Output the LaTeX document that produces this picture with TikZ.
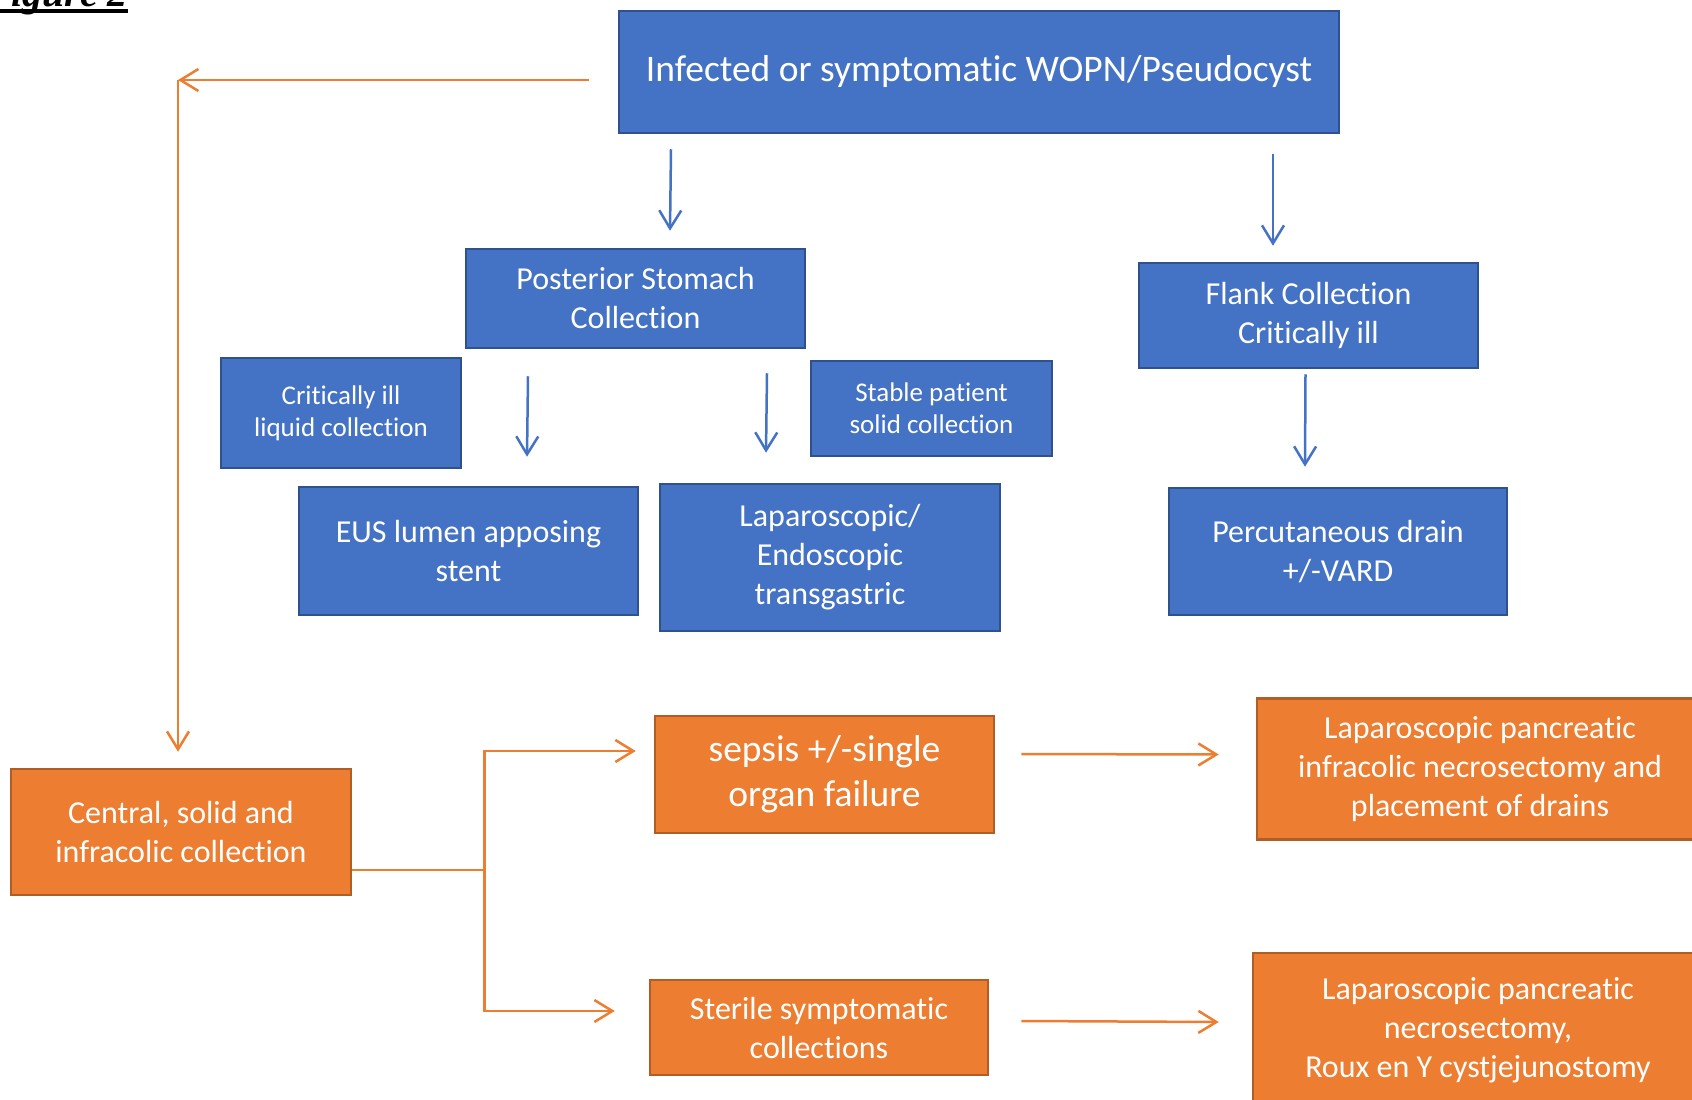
\documentclass[tikz,border=0pt]{standalone}
\usepackage{fontspec}
\setmainfont{Carlito}[Ligatures=NoCommon]
\newfontfamily\figfont{Liberation Serif}
\usetikzlibrary{arrows.meta,positioning}
\definecolor{boxBlue}{HTML}{4472C4}
\definecolor{edgeBlue}{HTML}{2F528F}
\definecolor{boxOrange}{HTML}{ED7D31}
\definecolor{edgeOrange}{HTML}{B05E25}
\newcommand\figUline[1]{\setbox0\hbox{#1}\rlap{\rule[-7pt]{\wd0}{4pt}}\box0}
\tikzset{
myBlueBox/.style={
	rectangle, draw=edgeBlue, fill=boxBlue, line width=2.5pt,
	inner sep=0pt, text=white, align=center,
	font=\fontsize{32}{39}\selectfont
}
, myOrangeBox/.style={
	rectangle, draw=edgeOrange, fill=boxOrange, line width=2.5pt,
	inner sep=0pt, text=white, align=center,
	font=\fontsize{32}{39}\selectfont
}
, mySmallText/.style={font=\fontsize{27}{32}\selectfont}
% link
, myBlueArrow/.style={-{Straight Barb[length=18pt,width=22pt,line width=2.5pt]},color=boxBlue,line width=2.5pt}
, myOrangeArrow/.style={-{Straight Barb[length=18pt,width=22pt,line width=2.5pt]},color=boxOrange,line width=2.5pt}
, myOrangeLine/.style={color=boxOrange,line width=2.5pt}
}
\begin{document}
\begin{tikzpicture}[x=1pt,y=-1pt]
	\useasboundingbox (0,0) rectangle (1692,1100);
	% label
	\node[font=\figfont\fontsize{40}{44}\selectfont\bfseries\itshape, anchor=base east, inner sep=0pt] (FigLabel) at (128,6) {\figUline{Figure 2}};
	% nodes
	\node[myBlueBox, minimum width=720pt, minimum height=122pt, font=\fontsize{37.5}{44}\selectfont] (Infected) at (979,72) {Infected or symptomatic WOPN/Pseudocyst};
	\node[myBlueBox, minimum width=339pt, minimum height=99pt] (Posterior) at (635.5,298.5) {Posterior Stomach\\Collection};
	\node[myBlueBox, minimum width=339pt, minimum height=105pt] (Flank) at (1308.5,315.5) {Flank Collection\\Critically ill};
	\node[myBlueBox, mySmallText, minimum width=240pt, minimum height=110pt] (CritLiquid) at (341,413) {Critically ill\\liquid collection};
	\node[myBlueBox, mySmallText, minimum width=241pt, minimum height=95pt] (StableSolid) at (931.5,408.5) {Stable patient\\solid collection};
	\node[myBlueBox, minimum width=339pt, minimum height=128pt] (EUS) at (468.5,551) {EUS lumen apposing\\stent};
	\node[myBlueBox, minimum width=340pt, minimum height=147pt] (LapEndo) at (830,557.5) {Laparoscopic/\\Endoscopic\\transgastric};
	\node[myBlueBox, minimum width=338pt, minimum height=127pt] (Percutaneous) at (1338,551.5) {Percutaneous drain\\+/-VARD};
	% orange part
	\node[myOrangeBox, minimum width=340pt, minimum height=126pt] (Central) at (181,832) {Central, solid and\\infracolic collection};
	\node[myOrangeBox, minimum width=339pt, minimum height=117pt, font=\fontsize{37.5}{45}\selectfont] (Sepsis) at (824.5,774.5) {sepsis +/-single\\organ failure};
	\node[myOrangeBox, minimum width=338pt, minimum height=95pt] (Sterile) at (819,1027.5) {Sterile symptomatic\\collections};
	\node[myOrangeBox, minimum width=446pt, minimum height=141pt] (LapDrains) at (1480,769) {Laparoscopic pancreatic\\infracolic necrosectomy and\\placement of drains};
	\node[myOrangeBox, minimum width=450pt, minimum height=154pt] (LapRoux) at (1478,1030) {Laparoscopic pancreatic\\necrosectomy,\\Roux en Y cystjejunostomy};
	\coordinate (Corner) at (178,80);

	% links
	\draw [myBlueArrow] ([xshift=-308pt,yshift=-15pt]Infected.south) -- ([xshift=34.5pt,yshift=17pt]Posterior.north);
	\draw [myBlueArrow] ([xshift=294pt,yshift=-20pt]Infected.south) -- ([xshift=-35.5pt,yshift=16pt]Flank.north);
	\draw [myBlueArrow] ([xshift=-107.5pt,yshift=-27pt]Posterior.south) -- ([xshift=58.5pt,yshift=29pt]EUS.north);
	\draw [myBlueArrow] ([xshift=131.5pt,yshift=-24pt]Posterior.south) -- ([xshift=-64pt,yshift=30pt]LapEndo.north);
	\draw [myBlueArrow] ([xshift=-3pt,yshift=-5pt]Flank.south) -- ([xshift=-33pt,yshift=20pt]Percutaneous.north);

	\draw [myOrangeArrow] ([xshift=-29pt,yshift=-8pt]Infected.west) -- (Corner);
	\draw [myOrangeArrow] (Corner) -- ([xshift=-3pt,yshift=16pt]Central.north);
	\draw [myOrangeLine] ([yshift=-38pt]Central.east) -- ++(132,0) coordinate (Fork);
	\draw [myOrangeArrow] (Fork) |- ([xshift=-18pt,yshift=23.5pt]Sepsis.west);
	\draw [myOrangeArrow] (Fork) |- ([xshift=-34pt,yshift=16.5pt]Sterile.west);
	\draw [myOrangeArrow] ([xshift=26pt,yshift=20.5pt]Sepsis.east) -- ([xshift=-37pt,yshift=14.5pt]LapDrains.west);
	\draw [myOrangeArrow] ([xshift=32pt,yshift=6.5pt]Sterile.east) -- ([xshift=-33pt,yshift=8pt]LapRoux.west);
\end{tikzpicture}
\end{document}
